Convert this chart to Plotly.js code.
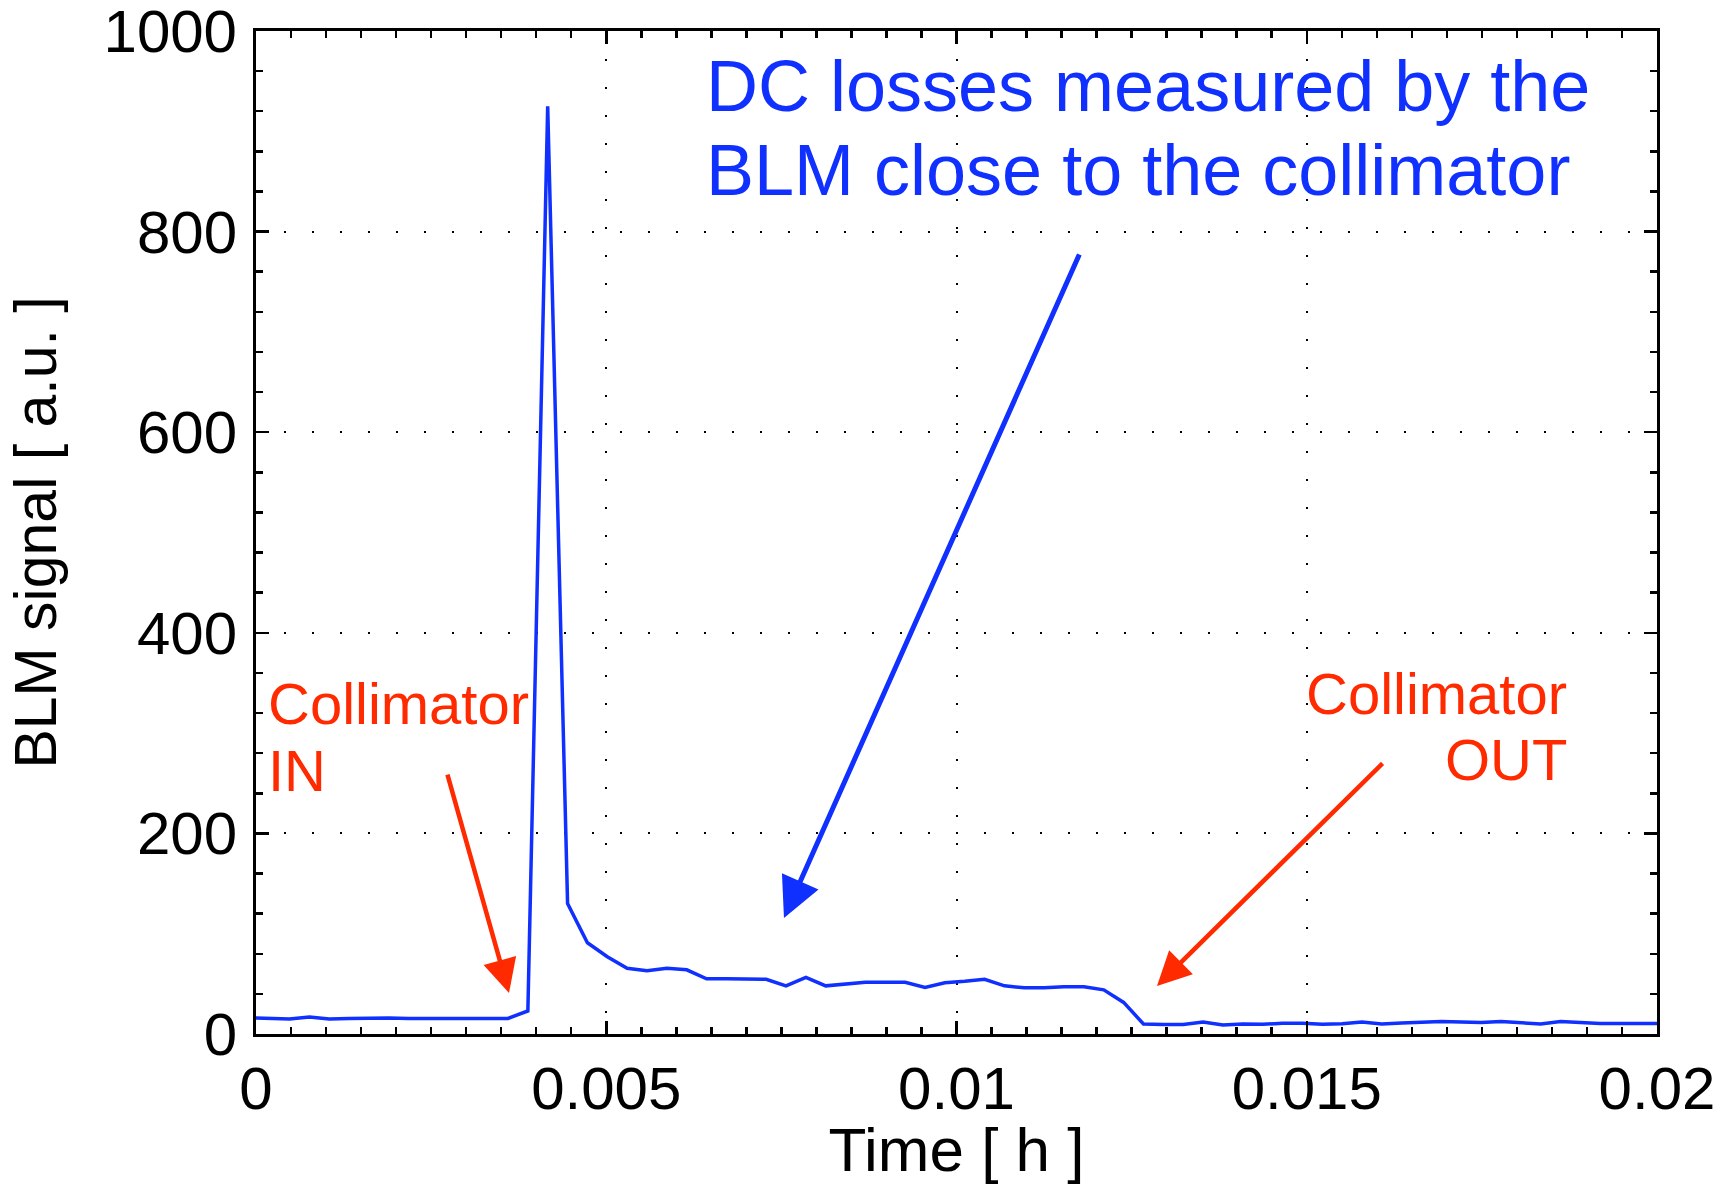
<!DOCTYPE html>
<html>
<head>
<meta charset="utf-8">
<script src="https://cdn.plot.ly/plotly-3.0.1.min.js"></script>
<style>
  html, body { margin: 0; padding: 0; background: #ffffff; }
  #chart { width: 1724px; height: 1184px; }
</style>
</head>
<body>
<div id="chart"></div>
<script>
// Time in hours of each sample
const timeHours = [
  -0.00009, 0.000195, 0.000479, 0.000762, 0.001046, 0.001329, 0.001613, 0.001896,
  0.002180, 0.002463, 0.002747, 0.003030, 0.003314, 0.003597, 0.003881, 0.004164,
  0.004448, 0.004731, 0.005015, 0.005298, 0.005582, 0.005865, 0.006149, 0.006432,
  0.006716, 0.006999, 0.007283, 0.007566, 0.007850, 0.008133, 0.008417, 0.008700,
  0.008984, 0.009267, 0.009551, 0.009834, 0.010118, 0.010401, 0.010685, 0.010968,
  0.011252, 0.011535, 0.011819, 0.012102, 0.012386, 0.012669, 0.012953, 0.013236,
  0.013520, 0.013803, 0.014087, 0.014370, 0.014654, 0.014937, 0.015221, 0.015504,
  0.015788, 0.016071, 0.016355, 0.016638, 0.016922, 0.017205, 0.017489, 0.017772,
  0.018056, 0.018339, 0.018623, 0.018906, 0.019190, 0.019473, 0.019757, 0.020040
];
// BLM signal [a.u.]
const blmSignal = [
  16, 15.5, 15, 17, 15, 15.5, 16, 16,
  15.5, 15.5, 16, 15.5, 16, 15.5, 23, 925,
  130, 91, 77, 65.5, 63, 65.5, 64, 55,
  55, 55, 54.5, 48, 56.5, 48, 49.5, 51.5,
  51.5, 51.5, 46.5, 51, 52.5, 54.5, 48, 46,
  46, 47, 47, 44, 31.5, 10, 9.5, 9.5,
  12, 9, 10, 9.7, 10.7, 10.7, 9.7, 10.3,
  12, 10, 11, 12, 12.5, 12, 11.5, 12.5,
  11.5, 10, 12.5, 11.5, 10.5, 10.5, 10.5, 10.5
];
const xTickVals = [0, 0.005, 0.01, 0.015, 0.02];
const xTickText = ["0", "0.005", "0.01", "0.015", "0.02"];
const yTickVals = [0, 200, 400, 600, 800, 1000];
const yTickText = ["0", "200", "400", "600", "800", "1000"];

const blue = "#0f30ff";
const red = "#ff2a00";
const FONT = "Liberation Sans, Arial, Helvetica, sans-serif";

const trace = {
  x: timeHours, y: blmSignal, type: "scatter", mode: "lines",
  line: { color: blue, width: 3.5 }, hoverinfo: "skip", showlegend: false
};

const axisCommon = {
  showline: true, linecolor: "#000", linewidth: 3, mirror: "allticks",
  ticks: "inside", ticklen: 13, tickwidth: 2.5, tickcolor: "#000",
  showgrid: true, gridcolor: "#000", gridwidth: 2, griddash: "2px,26px",
  zeroline: false, ticklabeloverflow: "allow",
  tickfont: { family: FONT, size: 60, color: "#000" }
};

const layout = {
  width: 1724, height: 1184,
  margin: { l: 256, r: 67, t: 31, b: 150 },
  paper_bgcolor: "#fff", plot_bgcolor: "#fff",
  font: { family: FONT, color: "#000" },
  xaxis: Object.assign({}, axisCommon, {
    range: [0, 0.02], tickmode: "array", tickvals: xTickVals, ticktext: xTickText,
    ticklabelstandoff: 0,
    minor: { dtick: 0.0005, ticks: "inside", ticklen: 7, tickwidth: 2.5, tickcolor: "#000", showgrid: false },
    title: { text: "Time [ h ]", font: { family: FONT, size: 62, color: "#000" }, standoff: 16 }
  }),
  yaxis: Object.assign({}, axisCommon, {
    range: [0, 1000.001], tickmode: "array", tickvals: yTickVals, ticktext: yTickText,
    ticklabelstandoff: 4,
    minor: { dtick: 40, ticks: "inside", ticklen: 7, tickwidth: 2.5, tickcolor: "#000", showgrid: false },
    title: { text: "BLM signal [ a.u. ]", font: { family: FONT, size: 59, color: "#000" }, standoff: 28 }
  }),
  annotations: [
    { xref: "paper", yref: "paper", x: 0.3198, y: (1034 - 86) / 1003, xanchor: "left", yanchor: "middle",
      text: "DC losses measured by the", showarrow: false, font: { family: FONT, size: 72, color: blue } },
    { xref: "paper", yref: "paper", x: 0.3198, y: (1034 - 170) / 1003, xanchor: "left", yanchor: "middle",
      text: "BLM close to the collimator", showarrow: false, font: { family: FONT, size: 72, color: blue } },
    { xref: "paper", yref: "paper", x: (266 - 256) / 1401, y: (1034 - 704) / 1003, xanchor: "left", yanchor: "middle",
      text: "Collimator", showarrow: false, font: { family: FONT, size: 58, color: red } },
    { xref: "paper", yref: "paper", x: (266 - 256) / 1401, y: (1034 - 770) / 1003, xanchor: "left", yanchor: "middle",
      text: "IN", showarrow: false, font: { family: FONT, size: 58, color: red } },
    { xref: "paper", yref: "paper", x: (1569 - 256) / 1401, y: (1034 - 693) / 1003, xanchor: "right", yanchor: "middle",
      text: "Collimator", showarrow: false, font: { family: FONT, size: 58, color: red } },
    { xref: "paper", yref: "paper", x: (1569 - 256) / 1401, y: (1034 - 759) / 1003, xanchor: "right", yanchor: "middle",
      text: "OUT", showarrow: false, font: { family: FONT, size: 58, color: red } },
    // arrows
    { xref: "x", yref: "y", axref: "x", ayref: "y", x: 0.007537, y: 115.7, ax: 0.011763, ay: 778.7,
      text: "", showarrow: true, arrowhead: 2, arrowsize: 1.6, arrowwidth: 5, arrowcolor: blue, standoff: 0 },
    { xref: "x", yref: "y", axref: "x", ayref: "y", x: 0.003612, y: 40.9, ax: 0.002727, ay: 260.2,
      text: "", showarrow: true, arrowhead: 2, arrowsize: 1.5, arrowwidth: 4.5, arrowcolor: red, standoff: 0 },
    { xref: "x", yref: "y", axref: "x", ayref: "y", x: 0.012862, y: 47.9, ax: 0.016103, ay: 271.2,
      text: "", showarrow: true, arrowhead: 2, arrowsize: 1.5, arrowwidth: 4.5, arrowcolor: red, standoff: 0 }
  ]
};

Plotly.newPlot("chart", [trace], layout, { staticPlot: true, displayModeBar: false });
</script>
</body>
</html>
